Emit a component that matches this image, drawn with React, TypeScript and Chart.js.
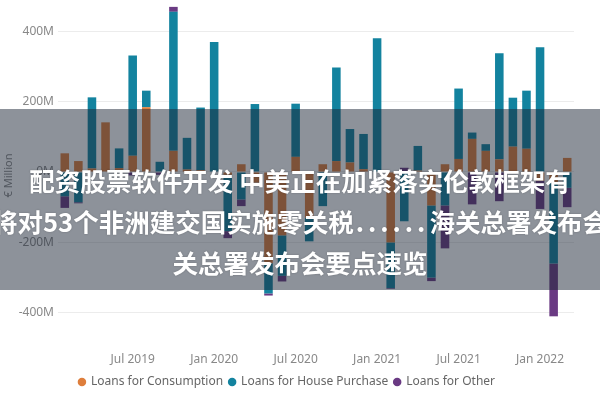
import React, { useEffect, useRef } from "react";
import { Chart, registerables } from "chart.js";

Chart.register(...registerables);

const categories = [
  "Feb 2019", "Mar 2019", "Apr 2019", "May 2019", "Jun 2019", "Jul 2019", "Aug 2019", "Sep 2019", "Oct 2019", "Nov 2019", "Dec 2019",
  "Jan 2020", "Feb 2020", "Mar 2020", "Apr 2020", "May 2020", "Jun 2020", "Jul 2020", "Aug 2020", "Sep 2020", "Oct 2020", "Nov 2020", "Dec 2020",
  "Jan 2021", "Feb 2021", "Mar 2021", "Apr 2021", "May 2021", "Jun 2021", "Jul 2021", "Aug 2021", "Sep 2021", "Oct 2021", "Nov 2021", "Dec 2021",
  "Jan 2022", "Feb 2022", "Mar 2022",
];

const shownTickLabels = ["Jul 2019", "Jan 2020", "Jul 2020", "Jan 2021", "Jul 2021", "Jan 2022"];

const consumption = [53, 31, 10, 141, 11, 46, 184, 0, 60, 7, 5, 0, -8, 22, -30, -259, -180, 43, -130, 22, 31, 27, 8, 0, -200, 0, 4, -95, 22, 37, 94, 60, 36, 72, 66, -25, -30, 40];
const housePurchase = [-69, -86, 202, 0, 56, 285, 47, 29, 395, 90, 178, 369, -160, -78, 193, -86, -115, 151, -67, -97, 266, 95, 100, 380, -130, -140, 70, -205, -95, 200, 18, 19, 301, 139, 165, 354, -230, -45];
const other = [-33, -3, 0, 0, 0, -10, 0, -8, 14, 0, 0, 0, -20, -19, 0, -6, -16, 0, 0, 0, 0, 0, 0, 0, -2, 12, 0, -10, -122, 0, -92, 0, -83, 0, 0, -80, -150, -55];

const yTickValues = [-400, -200, 0, 200, 400];

const seriesNames = ["Loans for Consumption", "Loans for House Purchase", "Loans for Other"];
const seriesColors = ["#DE7E3C", "#13839F", "#6A3A83"];

const bannerLine1 = "配资股票软件开发 中美正在加紧落实伦敦框架有";
const bannerLine2a = "将对53个非洲建交国实施零关税";
const bannerEllipsis = "......";
const bannerLine2b = "海关总署发布会";
const bannerLine3 = "关总署发布会要点速览";

const lineStyle: React.CSSProperties = {
  display: "flex",
  justifyContent: "center",
  whiteSpace: "nowrap",
  height: 41,
  lineHeight: "41px",
  color: "#fff",
  fontWeight: 700,
  fontSize: 25.5,
  fontFamily: "'Noto Sans CJK SC', sans-serif",
  textShadow: "0 0 2px rgba(0,0,0,0.25)",
};

export default function App() {
  const canvasRef = useRef<HTMLCanvasElement | null>(null);

  useEffect(() => {
    document.body.style.margin = "0";
    const canvas = canvasRef.current;
    if (!canvas) return;
    const values = [consumption, housePurchase, other];
    const chart = new Chart(canvas, {
      type: "bar",
      data: {
        labels: categories,
        datasets: values.map((d, i) => ({
          label: seriesNames[i],
          data: d,
          backgroundColor: seriesColors[i],
          borderWidth: 0,
          categoryPercentage: 1,
          barPercentage: 0.63,
        })),
      },
      options: {
        animation: false,
        responsive: false,
        maintainAspectRatio: false,
        layout: { padding: { top: 3, right: 26, left: 0, bottom: 2 } },
        plugins: {
          tooltip: { enabled: false },
          legend: {
            position: "bottom",
            labels: {
              usePointStyle: true,
              pointStyle: "circle",
              boxWidth: 6,
              boxHeight: 6,
              padding: 6,
              color: "#666",
              font: { family: "'Noto Sans', sans-serif", size: 12 },
            },
          },
        },
        scales: {
          x: {
            stacked: true,
            grid: { display: false, drawTicks: false },
            border: { display: false },
            afterFit: (scale: any) => {
              scale.height = 22;
            },
            ticks: {
              autoSkip: false,
              maxRotation: 0,
              minRotation: 0,
              padding: 4,
              color: "#888",
              font: { family: "'Noto Sans', sans-serif", size: 12 },
              callback: (_v: any, idx: number) =>
                shownTickLabels.includes(categories[idx]) ? categories[idx] : "",
            },
          },
          y: {
            stacked: true,
            min: -500,
            max: 480,
            afterBuildTicks: (axis: any) => {
              axis.ticks = yTickValues.map((v) => ({ value: v }));
            },
            afterFit: (scale: any) => {
              scale.width = 58;
              scale.paddingTop = 0;
              scale.paddingBottom = 0;
            },
            grid: { color: "#ececec", drawTicks: false },
            border: { display: false },
            title: {
              display: true,
              text: "€ Million",
              color: "#888",
              font: { family: "'Noto Sans', sans-serif", size: 11 },
              padding: { top: 2, bottom: 2 },
            },
            ticks: {
              padding: 4,
              color: "#888",
              font: { family: "'Noto Sans', sans-serif", size: 12 },
              callback: (v: any) => `${v}M`,
            },
          },
        },
      },
    });
    return () => chart.destroy();
  }, []);

  return (
    <div style={{ position: "relative", width: 600, height: 400, overflow: "hidden", background: "#fff" }}>
      <canvas ref={canvasRef} width={600} height={400} style={{ display: "block" }} />
      <div
        style={{
          position: "absolute",
          left: 0,
          top: 109,
          width: 600,
          height: 181,
          background: "rgba(28,38,54,0.5)",
          overflow: "hidden",
          paddingTop: 50,
          boxSizing: "border-box",
        }}
      >
        <div style={lineStyle}>
          <span>{bannerLine1}</span>
        </div>
        <div style={lineStyle}>
          <span>
            {bannerLine2a}
            <span style={{ letterSpacing: 4, marginLeft: 2 }}>{bannerEllipsis}</span>
            {bannerLine2b}
          </span>
        </div>
        <div style={lineStyle}>
          <span>{bannerLine3}</span>
        </div>
      </div>
    </div>
  );
}
